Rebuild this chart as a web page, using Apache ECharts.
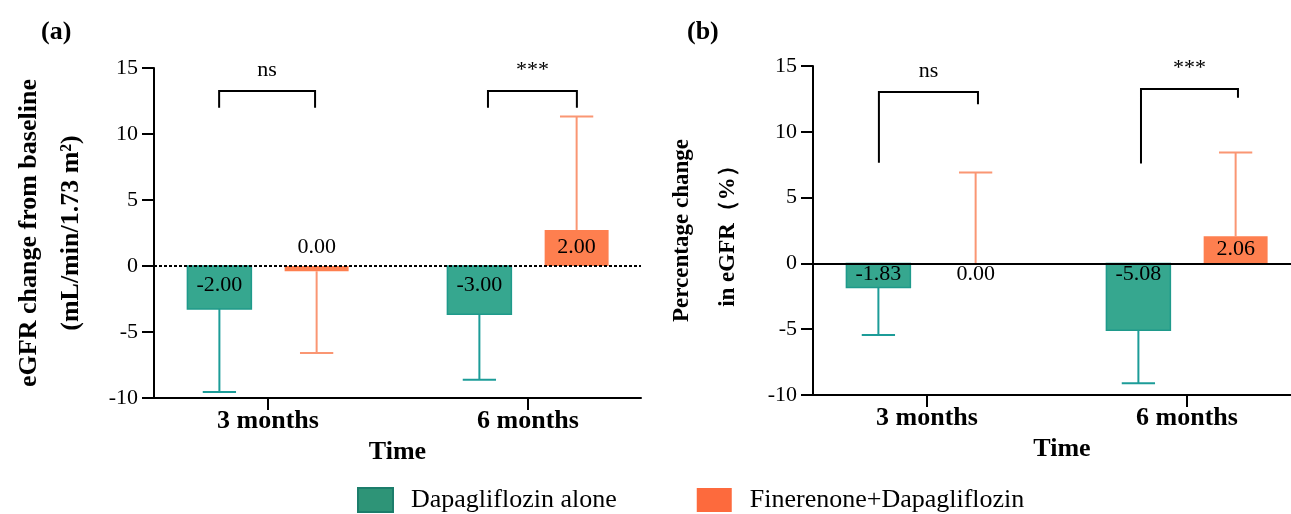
<!DOCTYPE html>
<html>
<head>
<meta charset="utf-8">
<script src="https://cdn.jsdelivr.net/npm/echarts@6/dist/echarts.min.js"></script>
<style>
html,body{margin:0;padding:0;background:#fff;}
#chart{width:1291px;height:514px;}
</style>
</head>
<body>
<div id="chart"></div>
<script>
// ---------- data ----------
const categories = ['3 months', '6 months'];
const seriesNames = ['Dapagliflozin alone', 'Finerenone+Dapagliflozin'];
const yTicks = [-10, -5, 0, 5, 10, 15];

// panel (a): eGFR change from baseline
const aDapaMean = [-3.25, -3.65];
const aDapaErr = [-9.55, -8.62];
const aDapaLabel = ['-2.00', '-3.00'];
const aFineMean = [-0.4, 2.73];
const aFineErr = [-6.6, 11.32];
const aFineLabel = ['0.00', '2.00'];

// panel (b): percentage change in eGFR
const bDapaMean = [-1.83, -5.08];
const bDapaErr = [-5.45, -9.1];
const bDapaLabel = ['-1.83', '-5.08'];
const bFineMean = [0, 2.06];
const bFineErr = [6.9, 8.42];
const bFineLabel = ['0.00', '2.06'];

// significance brackets
const aSigText = ['ns', '***'];
const aSigX1 = [0.812, 1.846];
const aSigX2 = [1.181, 2.188];
const aSigTop = [13.26, 13.26];
const aSigLeftEnd = [11.98, 11.98];
const aSigRightEnd = [11.98, 11.98];

const bSigText = ['ns', '***'];
const bSigX1 = [0.815, 1.823];
const bSigX2 = [1.196, 2.196];
const bSigTop = [13.03, 13.26];
const bSigLeftEnd = [7.65, 7.6];
const bSigRightEnd = [12.1, 12.58];

// ---------- styles ----------
const FONT = "'Liberation Serif', 'Times New Roman', serif";
const GREEN = '#36a78f', GREEN_BORDER = '#1f9a8b', GREEN_ERR = '#1c9c98';
const ORANGE = '#fe7f4f', ORANGE_ERR = '#fa9673';
const OFFSET = 0.187, BAR_W = 0.246, CAP_W = 0.128;

const chart = echarts.init(document.getElementById('chart'), null, {renderer: 'canvas'});

function barSeries(name, panel, means, errs, labels, side, fill, stroke, errColor, withZeroLine, zeroDotted) {
  const s = {
    type: 'custom',
    name: name,
    xAxisIndex: panel,
    yAxisIndex: panel,
    itemStyle: {color: fill},
    data: categories.map((c, i) => [i + 1, means[i], errs[i]]),
    renderItem: function (params, api) {
      const i = params.dataIndex;
      const x = api.value(0) + side * OFFSET;
      const v = api.value(1), e = api.value(2);
      const p0 = api.coord([x, 0]), p1 = api.coord([x, v]), pe = api.coord([x, e]);
      const w = api.size([BAR_W, 0])[0];
      const cw = api.size([CAP_W, 0])[0];
      const num = parseFloat(labels[i]);
      let dy;
      if (panel === 0) dy = num >= 0 ? -19 : 19;
      else dy = num > 0 ? -14 : 11;
      const children = [
        {type: 'line', shape: {x1: p1[0], y1: p1[1], x2: pe[0], y2: pe[1]},
         style: {stroke: errColor, lineWidth: 2}},
        {type: 'line', shape: {x1: pe[0] - cw / 2, y1: pe[1], x2: pe[0] + cw / 2, y2: pe[1]},
         style: {stroke: errColor, lineWidth: 2}},
        {type: 'rect', shape: {x: p0[0] - w / 2, y: Math.min(p0[1], p1[1]), width: w, height: Math.abs(p1[1] - p0[1])},
         style: {fill: fill, stroke: stroke, lineWidth: stroke ? 1.5 : 0}},
        {type: 'text', z2: 10, style: {text: labels[i], x: p0[0], y: p0[1] + dy, align: 'center', verticalAlign: 'middle',
         font: '22px ' + FONT, fill: '#000'}}
      ];
      return {type: 'group', children: children};
    }
  };
  if (withZeroLine) {
    s.markLine = {
      silent: true, symbol: 'none', label: {show: false}, z: 20,
      lineStyle: {color: '#000', width: zeroDotted ? 2.2 : 2, type: zeroDotted ? [3, 2] : 'solid'},
      emphasis: {disabled: true},
      data: [{yAxis: 0}]
    };
  }
  return s;
}

function sigSeries(panel, texts, x1s, x2s, tops, lefts, rights) {
  return {
    type: 'custom',
    xAxisIndex: panel,
    yAxisIndex: panel,
    silent: true,
    data: texts.map((t, i) => [x1s[i], x2s[i], tops[i], lefts[i], rights[i]]),
    renderItem: function (params, api) {
      const i = params.dataIndex;
      const a = api.coord([api.value(0), api.value(3)]);
      const b = api.coord([api.value(0), api.value(2)]);
      const c = api.coord([api.value(1), api.value(2)]);
      const d = api.coord([api.value(1), api.value(4)]);
      return {type: 'group', children: [
        {type: 'polyline', shape: {points: [a, b, c, d]}, style: {stroke: '#000', lineWidth: 2, fill: null}},
        {type: 'text', style: {text: texts[i], x: (b[0] + c[0]) / 2, y: b[1] - 10, align: 'center', verticalAlign: 'bottom',
          font: '22px ' + FONT, fill: '#000'}}
      ]};
    }
  };
}

function xAxis(idx, max, namePad) {
  return {
    type: 'value', gridIndex: idx, min: 0.5615, max: max,
    splitLine: {show: false},
    axisLine: {show: true, onZero: false, lineStyle: {color: '#000', width: 2}},
    axisTick: {show: true, length: 12, lineStyle: {color: '#000', width: 2}, customValues: [1, 2]},
    axisLabel: {customValues: [1, 2], formatter: v => categories[Math.round(v) - 1] || '',
      fontFamily: FONT, fontSize: 26, fontWeight: 'bold', color: '#000', margin: 10},
    name: 'Time', nameLocation: 'middle', nameGap: 37,
    nameTextStyle: {fontFamily: FONT, fontSize: 26, fontWeight: 'bold', color: '#000', padding: [0, 0, 0, namePad]}
  };
}

function yAxis(idx, name, nameSize, lh) {
  return {
    type: 'value', gridIndex: idx, min: yTicks[0], max: yTicks[yTicks.length - 1], interval: 5,
    splitLine: {show: false},
    axisLine: {show: true, onZero: false, lineStyle: {color: '#000', width: 2}},
    axisTick: {show: true, length: 12, lineStyle: {color: '#000', width: 2}},
    axisLabel: {fontFamily: FONT, fontSize: 22, color: '#000', margin: 16},
    name: name, nameLocation: 'middle', nameGap: 62, nameRotate: 90,
    nameTextStyle: {fontFamily: FONT, fontSize: nameSize, fontWeight: 'bold', color: '#000', lineHeight: lh, align: 'center'}
  };
}

const option = {
  backgroundColor: '#fff',
  animation: false,
  title: [
    {text: '(a)', left: 41, top: 19, padding: 0, textStyle: {fontFamily: FONT, fontSize: 26, fontWeight: 'bold', color: '#000'}},
    {text: '(b)', left: 687, top: 19, padding: 0, textStyle: {fontFamily: FONT, fontSize: 26, fontWeight: 'bold', color: '#000'}}
  ],
  legend: {
    left: 352, top: 482, itemWidth: 35, itemHeight: 24, itemGap: 80,
    selectedMode: false,
    icon: 'rect',
    textStyle: {fontFamily: FONT, fontSize: 26, color: '#000', padding: [0, 0, 0, 13]},
    data: [
      {name: seriesNames[0], itemStyle: {color: '#2e9477', borderColor: '#1c7d6b', borderWidth: 2}},
      {name: seriesNames[1], itemStyle: {color: '#fd6a3d', borderWidth: 0}}
    ]
  },
  grid: [
    {left: 154, top: 68, width: 487, height: 330},
    {left: 813, top: 66, width: 478, height: 329}
  ],
  xAxis: [xAxis(0, 2.4346, 0), xAxis(1, 0.5615 + 478 / 260, 20)],
  yAxis: [
    yAxis(0, 'eGFR change from baseline\n(mL/min/1.73 m²)', 26, 42),
    yAxis(1, 'Percentage change\nin eGFR（%）', 23, 46)
  ],
  series: [
    barSeries(seriesNames[0], 0, aDapaMean, aDapaErr, aDapaLabel, -1, GREEN, GREEN_BORDER, GREEN_ERR, true, true),
    barSeries(seriesNames[1], 0, aFineMean, aFineErr, aFineLabel, 1, ORANGE, null, ORANGE_ERR, false, false),
    barSeries(seriesNames[0], 1, bDapaMean, bDapaErr, bDapaLabel, -1, GREEN, GREEN_BORDER, GREEN_ERR, true, false),
    barSeries(seriesNames[1], 1, bFineMean, bFineErr, bFineLabel, 1, ORANGE, null, ORANGE_ERR, false, false),
    sigSeries(0, aSigText, aSigX1, aSigX2, aSigTop, aSigLeftEnd, aSigRightEnd),
    sigSeries(1, bSigText, bSigX1, bSigX2, bSigTop, bSigLeftEnd, bSigRightEnd)
  ]
};
chart.setOption(option);
</script>
</body>
</html>
